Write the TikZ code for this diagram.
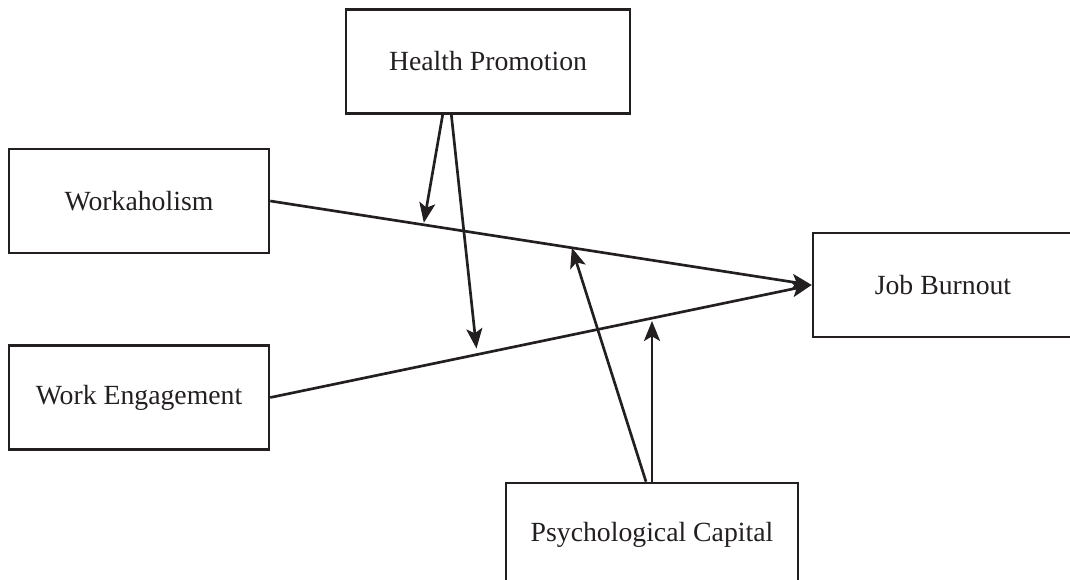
\documentclass[tikz,border=0pt]{standalone}
\usepackage{fontspec}
\setmainfont{Liberation Serif}
\usetikzlibrary{arrows.meta}
\definecolor{inkgray}{RGB}{35,31,32}
\begin{document}
\begin{tikzpicture}[x=0.75pt,y=-0.75pt,
  box/.style={draw=inkgray,line width=1.9pt,minimum width=195pt,minimum height=78pt,inner sep=0pt,text=inkgray,font=\fontsize{20.8}{25}\selectfont},
  link/.style={draw=inkgray,line width=2pt,-{Stealth[length=15pt,width=12pt,inset=3.5pt]}}]
\useasboundingbox (0,0) rectangle (1070,580);
\node [box] (wk) at (139,201) {Workaholism};
\node [box] (we) at (139,397.5) {Work Engagement};
\node [box,minimum width=213pt] (hp) at (488,61.5) {Health Promotion};
\node [box] (jb) at (943,285) {Job Burnout};
\node [box,minimum width=219pt] (pc) at (652,535) {Psychological Capital};
\draw [link] (wk.east) -- coordinate[pos=0.283] (wkA) coordinate[pos=0.557] (wkB) (jb.west);
\draw [link] (we.east) -- coordinate[pos=0.382] (weA) coordinate[pos=0.704] (weB) (jb.west);
\draw [link,shorten >=1.5pt] ([xshift=-34pt]hp.south) -- (wkA);
\draw [link,shorten >=4.5pt] ([xshift=-27.5pt]hp.south) -- (weA);
\draw [link] ([xshift=-4.5pt]pc.north) -- (wkB);
\draw [link,shorten >=2pt] (pc.north) -- (pc.north |- weB);
\end{tikzpicture}
\end{document}
